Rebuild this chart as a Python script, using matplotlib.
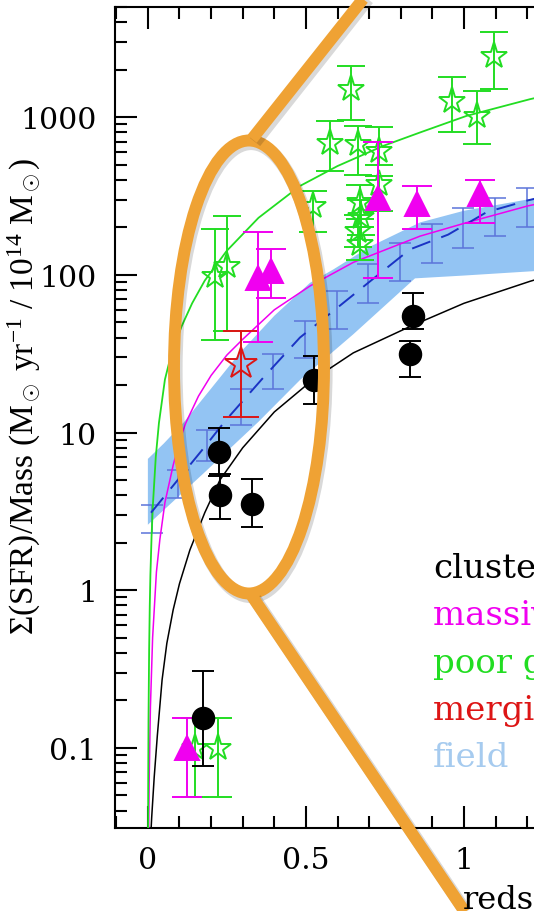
import numpy as np
import matplotlib
matplotlib.use('Agg')
from matplotlib import pyplot as plt
from matplotlib.patches import Ellipse
from matplotlib.ticker import LogLocator, MultipleLocator, NullFormatter

plt.rcParams['mathtext.fontset'] = 'custom'
plt.rcParams['mathtext.rm'] = 'Liberation Serif'
plt.rcParams['mathtext.it'] = 'Liberation Serif:italic'

# clusters (filled circles)
clus_z = [0.173, 0.226, 0.228, 0.328, 0.525, 0.838, 0.829]
clus_y = [0.154, 7.54, 4.04, 3.54, 21.4, 54.7, 31.7]
clus_lo = [0.077, 5.33, 2.83, 2.51, 15.1, 45.5, 22.4]
clus_hi = [0.308, 10.7, 5.49, 5.08, 30.5, 77.1, 38.0]

# massive clusters (triangles)
mass_z = [0.124, 0.349, 0.391, 0.729, 0.850, 1.051]
mass_y = [0.0995, 95.9, 105.7, 309, 280, 324]
mass_lo = [0.0486, 37.4, 71.6, 96, 196, 214]
mass_hi = [0.154, 187, 145, 697, 366, 398]

# poor groups (open stars)
poor_z = [0.149, 0.223, 0.212, 0.249, 0.523, 0.576, 0.644, 0.665, 0.732, 0.732,
          0.67, 0.675, 0.665, 0.67, 0.963, 1.040, 1.095]
poor_y = [0.0995, 0.0995, 98, 113, 274, 690, 1506, 674, 611, 376,
          288, 232, 189, 156, 1270, 1019, 2449]
poor_lo = [0.0486, 0.0486, 38.6, 44, 187, 456, 962, 428, 499, 255,
           225, 180, 150, 125, 807, 674, 1506]
poor_hi = [0.154, 0.154, 194.6, 236, 341, 948, 2118, 881, 861, 426,
           370, 300, 240, 200, 1786, 1469, 3484]

# merging cluster
merg_z = [0.296]
merg_y = [27.0]
merg_lo = [12.5]
merg_hi = [44.0]

# field binned values (no marker)
field_z = [0.012, 0.096, 0.186, 0.296, 0.397, 0.497, 0.597, 0.697, 0.797,
           0.898, 0.998, 1.098, 1.198]
field_y = [2.84, 4.73, 8.27, 14.5, 24.3, 38.9, 59.7, 88.3, 120, 158, 198, 234, 266]
field_lo = [2.31, 3.85, 6.57, 11.2, 18.8, 29.8, 45.1, 66.6, 91, 119, 149, 177, 200]
field_hi = [3.49, 5.82, 10.4, 18.8, 31.3, 50.9, 78.9, 117, 159, 209, 264, 309, 353]

# field envelope
band_up_z = [0.0, 0.05, 0.112, 0.2, 0.291, 0.4, 0.513, 0.586, 0.7, 0.861, 1.0, 1.203, 1.3]
band_up_y = [6.8, 8.5, 11.5, 19, 32, 55, 89, 108, 150, 215, 255, 301, 320]
band_lo_z = [0.0, 0.18, 0.35, 0.481, 0.65, 0.845, 1.0, 1.203, 1.3]
band_lo_y = [2.6, 5.6, 11.7, 21.5, 42, 95, 99, 105, 108]

# fitted trends
fit_clus_z = [0.008, 0.012, 0.02, 0.03, 0.045, 0.06, 0.08, 0.1, 0.133, 0.18, 0.228,
              0.3, 0.4, 0.523, 0.65, 0.829, 1.0, 1.209, 1.3]
fit_clus_y = [0.025, 0.036, 0.065, 0.12, 0.27, 0.46, 0.75, 1.1, 1.8, 3.1, 5.0,
              8.0, 13.5, 21.7, 32, 47, 66, 91, 103]
fit_mass_z = [0.002, 0.004, 0.008, 0.015, 0.027, 0.038, 0.054, 0.08, 0.1, 0.12,
              0.16, 0.2, 0.25, 0.3, 0.4, 0.513, 0.65, 0.861, 1.0, 1.203, 1.3]
fit_mass_y = [0.025, 0.06, 0.18, 0.5, 1.3, 2.1, 3.6, 6.2, 8.8, 11.5,
              17, 23, 31, 39, 60, 85, 120, 176, 212, 274, 300]
fit_poor_z = [0.0005, 0.001, 0.002, 0.004, 0.006, 0.008, 0.0117, 0.016, 0.025, 0.035,
              0.054, 0.075, 0.107, 0.14, 0.18, 0.249, 0.35, 0.481, 0.6, 0.745,
              0.861, 1.008, 1.209, 1.3]
fit_poor_y = [0.02, 0.055, 0.15, 0.42, 0.8, 1.25, 2.2, 3.5, 7, 11.5,
              21.7, 32, 47.3, 66, 92, 141.6, 230, 366, 490, 658,
              800, 1019, 1301, 1430]
fit_field_z = [0.01, 0.07, 0.138, 0.186, 0.244, 0.36, 0.481, 0.6, 0.7, 0.829,
               0.95, 1.072, 1.203, 1.3]
fit_field_y = [3.1, 4.35, 6.4, 8.4, 11.8, 21.7, 40, 62, 90, 145, 180, 250, 297, 330]

legend_names = ['clusters', 'massive clusters', 'poor groups', 'merging clusters', 'field']

BLACK = 'black'
MAGENTA = '#f000f0'
GREEN = '#22dd22'
RED = '#dd1515'
FIELD = '#93c4f3'
FIELD_BAR = '#5b74da'
FIELD_LINE = '#1a33c4'
ORANGE = '#efa234'


def plot_points(ax, z, y, lo, hi, color, marker, ms, capsize, mfc, zorder):
    y = np.array(y)
    yerr = [y - np.array(lo), np.array(hi) - y]
    ax.errorbar(z, y, yerr=yerr, fmt=marker, color=color, ms=ms, mfc=mfc,
                mec=color, mew=1.4, elinewidth=1.4, capsize=capsize,
                capthick=1.4, zorder=zorder)


fig = plt.figure(figsize=(5.34, 9.12), dpi=100)
W, H = 534.0, 912.0
x0, x1 = -0.104, 1.5
left, right_px = 115, 148 + 316 * 1.5
ax = fig.add_axes([left / W, (H - 829) / H, (right_px - left) / W, (829 - 8) / H])

# field envelope and binned field values
ax.fill(np.concatenate([band_up_z, band_lo_z[::-1]]),
        np.concatenate([band_up_y, band_lo_y[::-1]]),
        color=FIELD, lw=0, zorder=1)
fy = np.array(field_y)
ax.errorbar(field_z, fy, yerr=[fy - np.array(field_lo), np.array(field_hi) - fy],
            fmt='none', ecolor=FIELD_BAR, elinewidth=1.1, capsize=8, capthick=1.1,
            zorder=2)

# trend lines
ax.plot(fit_clus_z, fit_clus_y, color=BLACK, lw=1.1, zorder=3)
ax.plot(fit_mass_z, fit_mass_y, color=MAGENTA, lw=1.1, zorder=3)
ax.plot(fit_poor_z, fit_poor_y, color=GREEN, lw=1.3, zorder=3)
ax.plot(fit_field_z, fit_field_y, color=FIELD_LINE, lw=1.4, ls=(0, (10, 6)), zorder=3)

plot_points(ax, poor_z, poor_y, poor_lo, poor_hi, GREEN, '*', 20, 10, 'none', 4)
plot_points(ax, merg_z, merg_y, merg_lo, merg_hi, RED, '*', 24, 13, 'none', 5)
plot_points(ax, mass_z, mass_y, mass_lo, mass_hi, MAGENTA, '^', 17, 10.5, MAGENTA, 6)
plot_points(ax, clus_z, clus_y, clus_lo, clus_hi, BLACK, 'o', 15.5, 8, BLACK, 7)

ax.set_yscale('log')
ax.set_xlim(x0, x1)
ax.set_ylim(0.031, 5000)
ax.set_xticks([0, 0.5, 1, 1.5], labels=['0', '0.5', '1', '1.5'])
ax.xaxis.set_minor_locator(MultipleLocator(0.1))
ax.set_yticks([0.1, 1, 10, 100, 1000], labels=['0.1', '1', '10', '100', '1000'])
ax.yaxis.set_minor_locator(LogLocator(base=10, subs=np.arange(2, 10)))
ax.yaxis.set_minor_formatter(NullFormatter())
ax.tick_params(which='both', direction='in', top=True, right=True, width=1.5)
ax.tick_params(which='major', length=16, pad=13, labelsize=21.5)
ax.tick_params(which='minor', length=8.5)
for lab in ax.get_xticklabels() + ax.get_yticklabels():
    lab.set_fontfamily('DejaVu Serif')
for sp in ax.spines.values():
    sp.set_linewidth(1.5)

# overlay in pixel coordinates for annotations
ov = fig.add_axes([0, 0, 1, 1], zorder=10)
ov.set_xlim(0, W)
ov.set_ylim(H, 0)
ov.axis('off')
ov.patch.set_alpha(0)

fig.text(24 / W, 1 - 396 / H,
         'Σ(SFR)/Mass (M$_\\odot$ yr$^{-1}$ / 10$^{14}$ M$_\\odot$)',
         rotation=90, ha='center', va='center', fontsize=24,
         family='Liberation Serif')

leg_colors = [BLACK, MAGENTA, GREEN, RED, '#a6cbef']
for i, (name, c) in enumerate(zip(legend_names, leg_colors)):
    ov.text(433, 578 + 47.3 * i, name, color=c, fontsize=24.5,
            family='DejaVu Serif', va='baseline', ha='left', clip_on=True)

ov.text(463, 909, 'redshift', fontsize=23, family='DejaVu Serif',
        va='baseline', ha='left', clip_on=True)

# zoom ellipse and connectors, with a soft shadow
ov.add_patch(Ellipse((251, 371), 150, 453, fill=False, ec=(0, 0, 0, 0.15), lw=9.5))
ov.plot([255, 374], [143, -8], color=(0, 0, 0, 0.15), lw=9.5, solid_capstyle='butt')
ov.plot([255, 476], [600, 928], color=(0, 0, 0, 0.15), lw=9.5, solid_capstyle='butt')
ov.add_patch(Ellipse((249, 368), 150, 453, fill=False, ec=ORANGE, lw=8.6))
ov.plot([252, 371], [140, -10], color=ORANGE, lw=8.6, solid_capstyle='butt')
ov.plot([252, 473], [597, 925], color=ORANGE, lw=8.6, solid_capstyle='butt')

fig.savefig('out.png', dpi=100)
